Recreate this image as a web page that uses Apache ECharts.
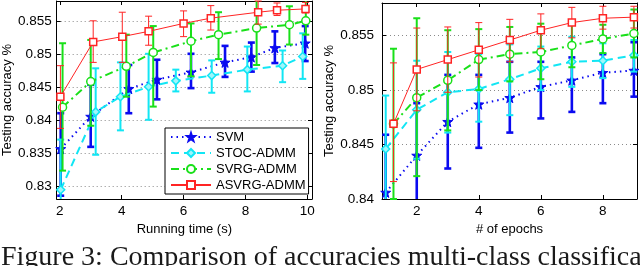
<!DOCTYPE html>
<html>
<head>
<meta charset="utf-8">
<script src="https://cdn.jsdelivr.net/npm/echarts@6/dist/echarts.min.js"></script>
<style>
html,body{margin:0;padding:0;background:#fff;}
#chart{width:640px;height:266px;}
</style>
</head>
<body>
<div id="chart"></div>
<script>
// ---------- Data: left panel (running time) ----------
const svmTime  = [2.03, 3.00, 4.23, 5.14, 6.24, 7.34, 8.19, 8.95, 9.93];
const svmAccT  = [0.8356, 0.8405, 0.8447, 0.8461, 0.8472, 0.8487, 0.8495, 0.8509, 0.8516];
const svmLoT   = [0.8285, 0.8359, 0.8410, 0.8431, 0.8448, 0.8465, 0.8473, 0.8486, 0.8489];
const svmHiT   = [0.8410, 0.8453, 0.8483, 0.8491, 0.8500, 0.8512, 0.8517, 0.8534, 0.8542];

const stocTime = [2.03, 3.16, 3.96, 4.87, 5.75, 6.91, 8.06, 9.20, 9.85];
const stocAccT = [0.8294, 0.8412, 0.8435, 0.8450, 0.8459, 0.8467, 0.8476, 0.8482, 0.8496];
const stocLoT  = [0.8218, 0.8347, 0.8384, 0.8400, 0.8443, 0.8441, 0.8443, 0.8457, 0.8462];
const stocHiT  = [0.8370, 0.8478, 0.8487, 0.8500, 0.8476, 0.8490, 0.8511, 0.8505, 0.8531];

const svrgTime = [2.09, 3.00, 4.15, 5.02, 6.24, 7.13, 8.36, 9.42, 9.95];
const svrgAccT = [0.8419, 0.8458, 0.8481, 0.8502, 0.8519, 0.8529, 0.8539, 0.8544, 0.8550];
const svrgLoT  = [0.8323, 0.8391, 0.8435, 0.8420, 0.8466, 0.8492, 0.8483, 0.8514, 0.8529];
const svrgHiT  = [0.8516, 0.8521, 0.8529, 0.8542, 0.8546, 0.8563, 0.8590, 0.8572, 0.8585];

const asvrgTime = [2.02, 3.08, 4.02, 4.87, 6.00, 6.88, 8.41, 9.02, 9.94];
const asvrgAccT = [0.8435, 0.8518, 0.8526, 0.8534, 0.8546, 0.8554, 0.8563, 0.8566, 0.8568];
const asvrgLoT  = [0.8387, 0.8487, 0.8487, 0.8513, 0.8526, 0.8536, 0.8545, 0.8558, 0.8562];
const asvrgHiT  = [0.8482, 0.8550, 0.8563, 0.8557, 0.8565, 0.8573, 0.8580, 0.8577, 0.8578];

// ---------- Data: right panel (epochs) ----------
const epochsA = [1, 2, 3, 4, 5, 6, 7, 8, 9];
const epochsB = [1.25, 2, 3, 4, 5, 6, 7, 8, 9];

const svmAccE  = [0.8406, 0.8440, 0.8471, 0.8487, 0.8493, 0.8503, 0.8509, 0.8516, 0.8518];
const svmLoE   = [0.8353, 0.8392, 0.8428, 0.8447, 0.8461, 0.8474, 0.8480, 0.8488, 0.8494];
const svmHiE   = [0.8459, 0.8488, 0.8514, 0.8514, 0.8526, 0.8526, 0.8530, 0.8533, 0.8544];

const stocAccE = [0.8446, 0.8482, 0.8498, 0.8501, 0.8510, 0.8520, 0.8526, 0.8527, 0.8532];
const stocLoE  = [0.8396, 0.8437, 0.8461, 0.8471, 0.8477, 0.8500, 0.8503, 0.8511, 0.8517];
const stocHiE  = [0.8495, 0.8527, 0.8535, 0.8533, 0.8542, 0.8540, 0.8549, 0.8543, 0.8546];

const svrgAccE = [0.8469, 0.8493, 0.8509, 0.8528, 0.8533, 0.8535, 0.8541, 0.8547, 0.8552];
const svrgLoE  = [0.8400, 0.8421, 0.8463, 0.8500, 0.8508, 0.8510, 0.8521, 0.8534, 0.8530];
const svrgHiE  = [0.8538, 0.8566, 0.8555, 0.8556, 0.8558, 0.8561, 0.8560, 0.8560, 0.8574];

const asvrgAccE = [0.8469, 0.8519, 0.8528, 0.8537, 0.8546, 0.8555, 0.8562, 0.8566, 0.8567];
const asvrgLoE  = [0.8416, 0.8481, 0.8498, 0.8512, 0.8526, 0.8538, 0.8548, 0.8556, 0.8557];
const asvrgHiE  = [0.8525, 0.8557, 0.8558, 0.8562, 0.8565, 0.8570, 0.8576, 0.8577, 0.8577];

const seriesNames = ['SVM', 'STOC-ADMM', 'SVRG-ADMM', 'ASVRG-ADMM'];
const xNameLeft = 'Running time (s)';
const xNameRight = '# of epochs';
const yName = 'Testing accuracy %';
const caption = 'Figure 3: Comparison of accuracies multi-class classification';

// ---------- Styles ----------
const FONT = 'Liberation Sans, Arial, Helvetica, sans-serif';
const BLUE = '#0a0af0', CYAN = '#12e6f4', GREEN = '#19e019', RED = '#ff2424';
const STAR = 'path://M0,-10 L2.35,-3.24 L9.51,-3.09 L3.8,1.24 L5.88,8.09 L0,4 L-5.88,8.09 L-3.8,1.24 L-9.51,-3.09 L-2.35,-3.24 Z';

const styles = [
  {name: seriesNames[0], color: BLUE,  lw: 2, type: [1.5, 4], symbol: STAR, size: 10, fill: BLUE, ebw: 2.6},
  {name: seriesNames[1], color: CYAN,  lw: 2, type: [8, 5], symbol: 'diamond', size: 8, fill: '#9ff6fb', ebw: 2},
  {name: seriesNames[2], color: GREEN, lw: 2, type: [8, 4, 2, 4], symbol: 'circle', size: 8, fill: '#fff', ebw: 2},
  {name: seriesNames[3], color: RED,   lw: 1, type: 'solid', symbol: 'rect', size: 7, fill: '#fff', ebw: 1}
];

function errSeries(st, xs, lo, hi, xi, yi, z) {
  return {
    type: 'custom', name: st.name + ' err', xAxisIndex: xi, yAxisIndex: yi, z: z,
    silent: true,
    data: xs.map((x, i) => [x, lo[i], hi[i]]),
    encode: {x: 0, y: [1, 2]},
    renderItem: function (params, api) {
      const x = api.value(0), l = api.value(1), h = api.value(2);
      const pl = api.coord([x, l]), ph = api.coord([x, h]);
      const cs = params.coordSys;
      const top = cs.y, bot = cs.y + cs.height;
      const yH = Math.max(ph[1], top), yL = Math.min(pl[1], bot);
      const cx = pl[0], hw = 3.5;
      const style = {stroke: st.color, lineWidth: st.ebw, fill: null};
      const ch = [{type: 'line', shape: {x1: cx, y1: yH, x2: cx, y2: yL}, style: style}];
      if (ph[1] >= top) ch.push({type: 'line', shape: {x1: cx - hw, y1: ph[1], x2: cx + hw, y2: ph[1]}, style: style});
      if (pl[1] <= bot) ch.push({type: 'line', shape: {x1: cx - hw, y1: pl[1], x2: cx + hw, y2: pl[1]}, style: style});
      return {type: 'group', children: ch};
    }
  };
}
function lineSeries(st, xs, ys, xi, yi, z) {
  return {
    type: 'line', name: st.name, xAxisIndex: xi, yAxisIndex: yi, z: z,
    data: xs.map((x, i) => [x, ys[i]]),
    symbol: st.symbol, symbolSize: st.size, showAllSymbol: true,
    lineStyle: {color: st.color, width: st.lw, type: st.type},
    itemStyle: {color: st.fill, borderColor: st.color, borderWidth: st.symbol === STAR ? 1 : 1.5},
    emphasis: {disabled: true}, animation: false
  };
}

const leftSets = [
  [svmTime, svmAccT, svmLoT, svmHiT],
  [stocTime, stocAccT, stocLoT, stocHiT],
  [svrgTime, svrgAccT, svrgLoT, svrgHiT],
  [asvrgTime, asvrgAccT, asvrgLoT, asvrgHiT]
];
const rightSets = [
  [epochsA, svmAccE, svmLoE, svmHiE],
  [epochsA, stocAccE, stocLoE, stocHiE],
  [epochsB, svrgAccE, svrgLoE, svrgHiE],
  [epochsB, asvrgAccE, asvrgLoE, asvrgHiE]
];

const series = [];
styles.forEach((st, k) => {
  const L = leftSets[k], R = rightSets[k];
  series.push(errSeries(st, L[0], L[2], L[3], 0, 0, 2 + 2 * k));
  series.push(lineSeries(st, L[0], L[1], 0, 0, 3 + 2 * k));
  series.push(errSeries(st, R[0], R[2], R[3], 2, 2, 2 + 2 * k));
  series.push(lineSeries(st, R[0], R[1], 2, 2, 3 + 2 * k));
});

const axisLine = {show: true, onZero: false, lineStyle: {color: '#000', width: 1}};
const tick = {show: true, inside: true, length: 4, lineStyle: {color: '#000'}};
const lbl = {color: '#000', fontFamily: FONT, fontSize: 13.5};
const grid = {show: true, lineStyle: {color: '#8a8a8a', type: [1, 3], width: 1}};

function xMain(gi, min, max, name, extra) {
  return Object.assign({
    type: 'value', gridIndex: gi, min: min, max: max, splitNumber: 4,
    axisLine: axisLine, axisTick: tick, splitLine: {show: false},
    axisLabel: Object.assign({margin: 5, showMinLabel: false, showMaxLabel: false}, lbl),
    name: name, nameLocation: 'middle', nameGap: 21,
    nameTextStyle: {color: '#000', fontFamily: FONT, fontSize: 13}
  }, extra || {});
}
function xTop(gi, min, max) {
  return {type: 'value', gridIndex: gi, position: 'top', min: min, max: max, splitNumber: 4,
    axisLine: axisLine, axisTick: tick, axisLabel: {show: false}, splitLine: {show: false}};
}
function yMain(gi, min, max, split, showMin, margin) {
  return {
    type: 'value', gridIndex: gi, min: min, max: max, splitNumber: split,
    axisLine: axisLine, axisTick: tick, splitLine: grid,
    axisLabel: Object.assign({margin: margin, showMinLabel: showMin, showMaxLabel: false}, lbl),
    name: yName, nameLocation: 'middle', nameGap: 39,
    nameTextStyle: {color: '#000', fontFamily: FONT, fontSize: 13}
  };
}
function yRight(gi, min, max, split) {
  return {type: 'value', gridIndex: gi, position: 'right', min: min, max: max, splitNumber: split,
    axisLine: axisLine, axisTick: tick, axisLabel: {show: false}, splitLine: {show: false}};
}

const option = {
  backgroundColor: '#fff',
  animation: false,
  grid: [
    {left: 55, top: 1, width: 257, height: 198, show: false},
    {left: 382, top: 3, width: 255, height: 196, show: false}
  ],
  xAxis: [
    xMain(0, 1.9, 10.15, xNameLeft),
    xTop(0, 1.9, 10.15),
    xMain(1, 0.88, 9.1, xNameRight),
    xTop(1, 0.88, 9.1)
  ],
  yAxis: [
    yMain(0, 0.828, 0.858, 6, false, 5),
    yRight(0, 0.828, 0.858, 6),
    yMain(1, 0.84, 0.858, 4, true, 8),
    yRight(1, 0.84, 0.858, 4)
  ],
  legend: {
    data: seriesNames, orient: 'vertical', left: 165, top: 128, z: 20,
    backgroundColor: '#fff', borderColor: '#000', borderWidth: 1,
    padding: [2, 3, 2, 5], itemWidth: 40, itemHeight: 10, itemGap: 2,
    selectedMode: false,
    textStyle: {color: '#000', fontFamily: FONT, fontSize: 13, lineHeight: 14}
  },
  graphic: [{
    type: 'text', left: 1, top: 244, z: 30,
    style: {text: caption, font: '28px "Liberation Serif", "Times New Roman", serif', fill: '#1a1a1a'}
  }],
  series: series
};

const chart = echarts.init(document.getElementById('chart'), null, {renderer: 'canvas'});
chart.setOption(option);
</script>
</body>
</html>
